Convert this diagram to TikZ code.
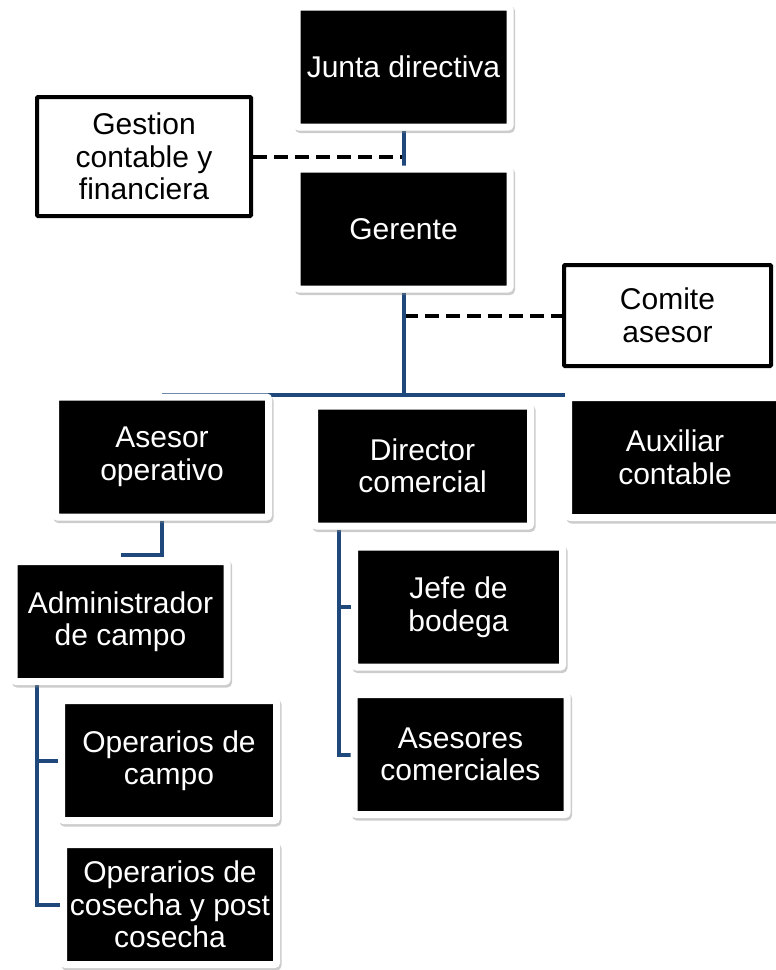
\documentclass[tikz,border=0pt]{standalone}
\usepackage{fontspec}
\setmainfont{Liberation Sans}
\usetikzlibrary{shadows,backgrounds}

\definecolor{orgblue}{RGB}{31,73,125}

\begin{document}
\begin{tikzpicture}[x=1pt, y=-1pt, font=\fontsize{30}{32.5}\selectfont,
    unit/.style={rectangle, fill=black, text=white, draw=white, line width=7pt,
      rounded corners=2pt, align=center, inner sep=0pt,
      minimum width=213pt, minimum height=120pt,
      drop shadow={shadow xshift=1.5pt, shadow yshift=-2.5pt,
        draw=black!50, fill=black!50, opacity=.4}},
    staff/.style={rectangle, fill=white, draw=black, line width=4pt,
      rounded corners=1pt, align=center, inner sep=0pt},
    link/.style={draw=orgblue, line width=4pt},
    advice/.style={draw=black, line width=4pt, dash pattern=on 14pt off 7pt}]
  \useasboundingbox (0,0) rectangle (776,970);

  % ----- top of the chart -----
  \node[unit] (junta) at (403.5,67) {Junta directiva};
  \node[unit] (gerente) at (403.5,229) {Gerente};
  \node[staff, minimum width=214pt, minimum height=119pt] (gestion)
    at (144,156.5) {Gestion\\contable y\\financiera};
  \node[staff, minimum width=207pt, minimum height=101pt] (comite)
    at (667.5,315.5) {Comite\\asesor};

  % ----- second level -----
  \node[unit] (asesor) at (162,457) {Asesor\\operativo};
  \node[unit, minimum width=216pt] (director) at (422.5,466) {Director\\comercial};
  \node[unit] (auxiliar) at (675,457.5) {Auxiliar\\contable};

  % ----- field side -----
  \node[unit] (admin) at (120.5,621.5) {Administrador\\de campo};
  \node[unit, minimum width=215pt] (opcampo) at (169,760.5) {Operarios de\\campo};
  \node[unit] (opcosecha) at (170,904.5) {Operarios de\\cosecha y post\\cosecha};

  % ----- commercial side -----
  \node[unit, minimum width=208pt] (jefe) at (458.5,607) {Jefe de\\bodega};
  \node[unit] (ascom) at (460.5,754.5) {Asesores\\comerciales};

  % ----- connectors, kept behind the boxes -----
  \begin{pgfonlayer}{background}
    \coordinate (hub) at (403.5,395);
    \draw[advice] (gestion.east) -- (gestion.east -| junta.south);
    \draw[advice] (comite.west -| gerente.south) -- (comite.west);
    \draw[link] (junta.south) -- (gerente.north);
    \draw[link] (gerente.south) -- (hub);
    \draw[link] (hub -| asesor.north) -- (hub -| auxiliar.west);
    \draw[link] (asesor.south) |- ([yshift=3pt]admin.north);
    \draw[link] ([xshift=26pt]admin.south west) |- (opcampo.west);
    \draw[link] ([xshift=26pt]admin.south west) |- (opcosecha.west);
    \draw[link] ([xshift=28pt]director.south west) |- (jefe.west);
    \draw[link] ([xshift=28pt]director.south west) |- (ascom.west);
  \end{pgfonlayer}
\end{tikzpicture}
\end{document}
